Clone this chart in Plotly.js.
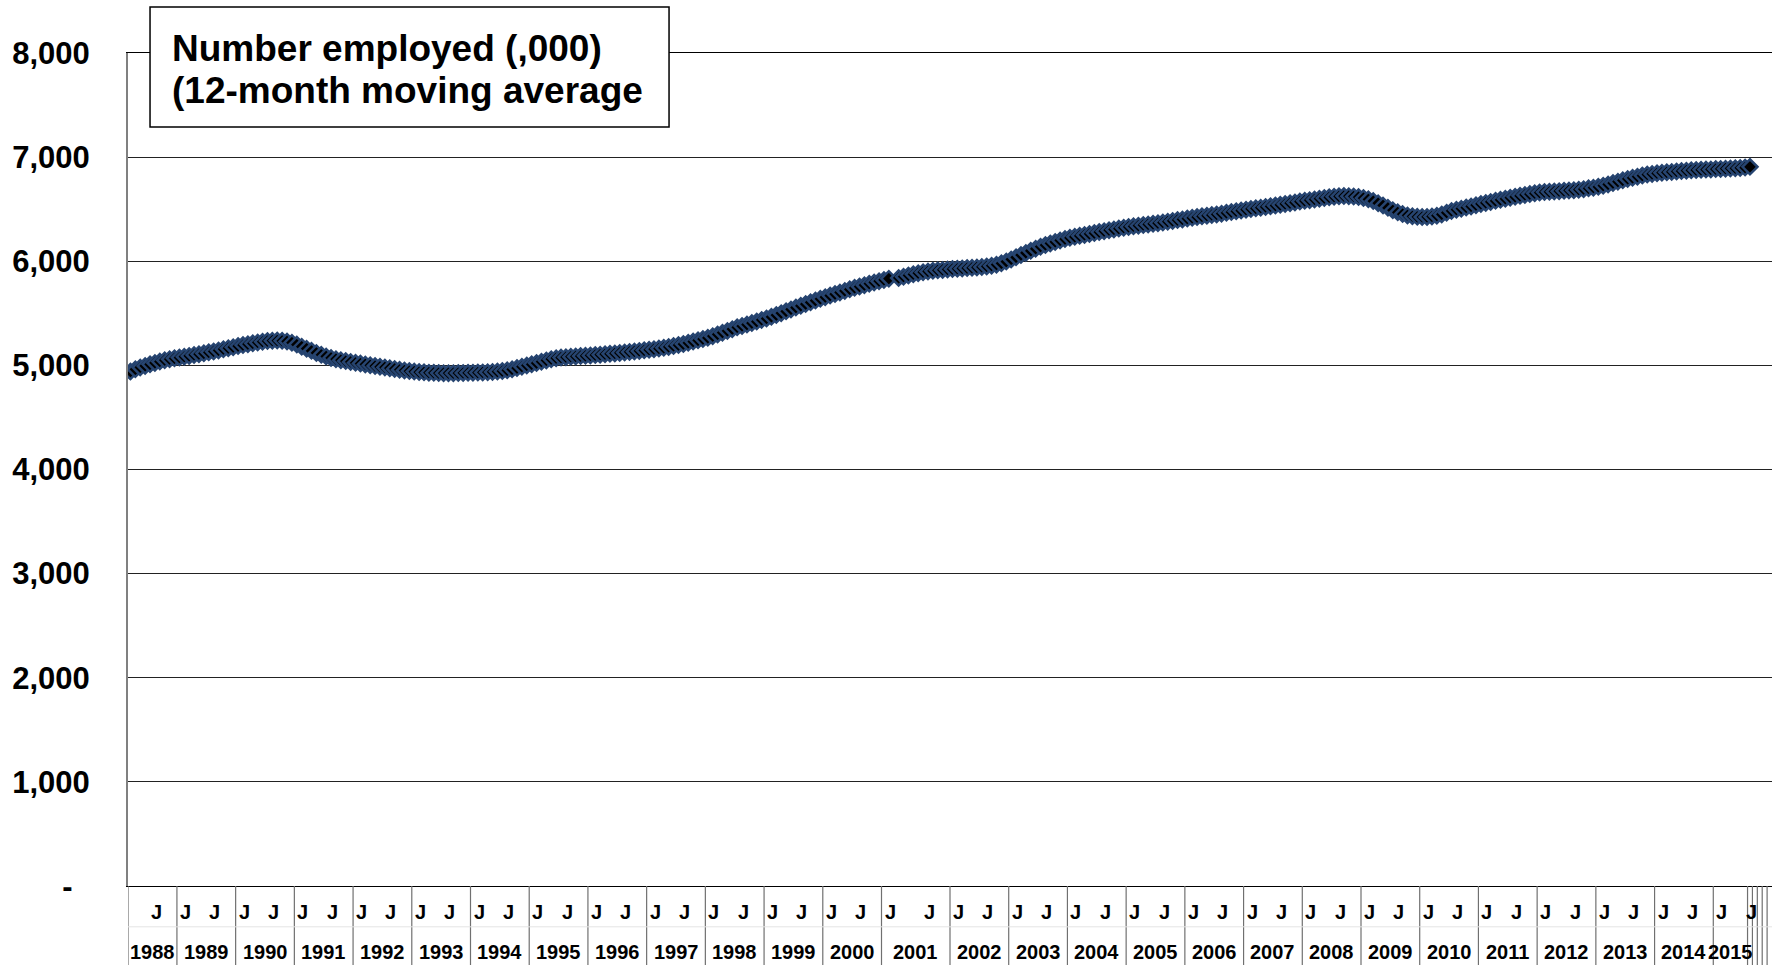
<!DOCTYPE html>
<html>
<head>
<meta charset="utf-8">
<script src="https://cdn.plot.ly/plotly-3.0.1.min.js"></script>
<style>
  html, body { margin: 0; padding: 0; background: #fff; }
  #chart { width: 1772px; height: 965px; }
</style>
</head>
<body>
<div id="chart"></div>
<script>
// Year groups on the category axis
const yearLabels = ['1988', '1989', '1990', '1991', '1992', '1993', '1994', '1995', '1996', '1997',
    '1998', '1999', '2000', '2001', '2002', '2003', '2004', '2005', '2006', '2007',
    '2008', '2009', '2010', '2011', '2012', '2013', '2014', '2015'];

// Month labels inside each year (only January and July are labelled)
const fullYearMonths = ['J', '', '', '', '', '', 'J', '', '', '', '', ''];
const months1988 = ['', '', '', '', 'J', '', '', '', '', ''];                 // Mar - Dec
const months2001 = ['J', '', '', '', '', '', '', '', 'J', '', '', '', '', '']; // series break inside
const months2015 = ['J', '', '', '', '', '', 'J'];                             // Jan - Jul
const trailingCats = 5; // blank categories after 2015, each its own group

// Number employed (,000), 12-month moving average, one value per category
const employed = [
    4940, 4962, 4980, 4995, 5010, 5024, 5037, 5050, 5060, 5068,                   // 1988
    5075, 5083, 5091, 5100, 5108, 5116, 5125, 5134, 5144, 5155, 5165, 5175,       // 1989
    5185, 5195, 5204, 5212, 5220, 5227, 5233, 5237, 5238, 5236, 5230, 5218,       // 1990
    5200, 5180, 5160, 5140, 5120, 5102, 5086, 5072, 5060, 5050, 5041, 5033,       // 1991
    5025, 5017, 5009, 5001, 4993, 4986, 4980, 4973, 4966, 4958, 4951, 4945,       // 1992
    4940, 4936, 4933, 4930, 4928, 4926, 4925, 4925, 4925, 4926, 4927, 4928,       // 1993
    4930, 4931, 4932, 4934, 4937, 4940, 4945, 4952, 4962, 4974, 4987, 4999,       // 1994
    5010, 5022, 5035, 5048, 5060, 5069, 5075, 5079, 5083, 5086, 5089, 5092,       // 1995
    5095, 5099, 5103, 5107, 5111, 5115, 5120, 5124, 5129, 5134, 5139, 5145,       // 1996
    5150, 5156, 5162, 5169, 5177, 5186, 5195, 5205, 5217, 5229, 5241, 5253,       // 1997
    5265, 5280, 5297, 5314, 5331, 5348, 5365, 5378, 5392, 5406, 5421, 5436,       // 1998
    5450, 5466, 5483, 5501, 5519, 5537, 5555, 5572, 5589, 5606, 5622, 5639,       // 1999
    5655, 5670, 5685, 5700, 5715, 5730, 5745, 5757, 5770, 5784, 5797, 5809,       // 2000
    5820, 5833, null, 5840, 5852, 5864, 5875, 5885, 5895, 5902, 5908, 5913, 5917, 5921, // 2001
    5925, 5928, 5931, 5934, 5937, 5941, 5945, 5950, 5957, 5967, 5980, 5997,       // 2002
    6017, 6038, 6059, 6080, 6100, 6120, 6140, 6156, 6171, 6186, 6200, 6213,       // 2003
    6225, 6235, 6244, 6253, 6262, 6271, 6280, 6289, 6298, 6306, 6314, 6322,       // 2004
    6330, 6336, 6342, 6348, 6354, 6359, 6365, 6372, 6380, 6387, 6395, 6402,       // 2005
    6410, 6417, 6424, 6431, 6437, 6444, 6450, 6457, 6465, 6472, 6480, 6487,       // 2006
    6495, 6502, 6508, 6515, 6522, 6528, 6535, 6542, 6550, 6558, 6565, 6573,       // 2007
    6580, 6587, 6594, 6601, 6607, 6614, 6620, 6624, 6626, 6625, 6622, 6616,       // 2008
    6607, 6595, 6578, 6558, 6536, 6513, 6490, 6470, 6453, 6440, 6432, 6427,       // 2009
    6425, 6426, 6430, 6438, 6450, 6466, 6483, 6495, 6505, 6516, 6527, 6538,       // 2010
    6550, 6560, 6570, 6580, 6590, 6600, 6610, 6619, 6628, 6637, 6645, 6653,       // 2011
    6660, 6664, 6667, 6670, 6673, 6676, 6680, 6683, 6687, 6692, 6700, 6707,       // 2012
    6715, 6726, 6738, 6751, 6764, 6777, 6790, 6801, 6812, 6823, 6833, 6839,       // 2013
    6845, 6850, 6854, 6858, 6862, 6866, 6870, 6873, 6876, 6878, 6880, 6882,       // 2014
    6885, 6887, 6889, 6891, 6893, 6896, 6900,                                     // 2015
    6907
];

const yTickVals = [0, 1000, 2000, 3000, 4000, 5000, 6000, 7000, 8000];
const yTickText = ['-\u00a0\u00a0', '1,000', '2,000', '3,000', '4,000', '5,000', '6,000', '7,000', '8,000'];

const titleLines = ['Number employed (,000)', '(12-month moving average'];

// build the grouped category axis
const special = { '1988': months1988, '2001': months2001, '2015': months2015 };
const groups = yearLabels.map(y => ({ label: y, months: special[y] || fullYearMonths }));
for (let k = 0; k < trailingCats; k++) groups.push({ label: '', months: [''] });

const font = 'Liberation Sans, Arial, sans-serif';
const annotations = [];
const shapes = [];
let idx = 0;
groups.forEach(g => {
    const first = idx;
    // divider at the start of each group
    shapes.push({
        type: 'line', xref: 'x', yref: 'paper',
        x0: first - 0.5, x1: first - 0.5, y0: 0, y1: -0.1,
        line: { color: '#707070', width: 1.2 }
    });
    g.months.forEach(m => {
        if (m) {
            annotations.push({
                xref: 'x', yref: 'paper', x: idx - 0.5, y: -0.031,
                xanchor: 'left', yanchor: 'middle', xshift: 1,
                text: m, showarrow: false,
                font: { family: font, size: 20, weight: 'bold', color: '#000' }
            });
        }
        idx++;
    });
    if (g.label) {
        annotations.push({
            xref: 'x', yref: 'paper', x: (first + idx - 1) / 2, y: -0.079,
            xanchor: 'center', yanchor: 'middle',
            text: g.label, showarrow: false,
            font: { family: font, size: 20, weight: 'bold', color: '#000' }
        });
    }
});
const nCats = idx;

// faint rule between the two label rows
shapes.push({
    type: 'line', xref: 'paper', yref: 'paper', x0: 0, x1: 1, y0: -0.049, y1: -0.049,
    line: { color: '#e4e4e4', width: 1 }
});

// title box
shapes.push({
    type: 'rect', xref: 'paper', yref: 'paper',
    x0: 0.0134, x1: 0.3291, y0: 0.9112, y1: 1.0552,
    line: { color: '#000', width: 1.5 }, fillcolor: '#fff', layer: 'above'
});
titleLines.forEach((t, i) => {
    annotations.push({
        xref: 'paper', yref: 'paper', x: 0.0256, y: i === 0 ? 1.0053 : 0.9551,
        xanchor: 'left', yanchor: 'middle', text: t, showarrow: false,
        font: { family: font, size: 37, weight: 'bold', color: '#000' }
    });
});

const trace = {
    x: employed.map((v, i) => i),
    y: employed,
    type: 'scatter',
    mode: 'markers',
    marker: {
        symbol: 'diamond',
        size: 11.5,
        color: '#000',
        line: { color: '#264470', width: 2.5 }
    },
    hoverinfo: 'skip'
};

const layout = {
    width: 1772,
    height: 965,
    margin: { l: 128, r: 0, t: 53, b: 79 },
    paper_bgcolor: '#fff',
    plot_bgcolor: '#fff',
    showlegend: false,
    xaxis: {
        range: [-0.5, nCats - 0.5],
        showgrid: false,
        zeroline: false,
        showticklabels: false,
        ticks: '',
        showline: true,
        mirror: true,
        linecolor: '#000',
        linewidth: 1
    },
    yaxis: {
        range: [0, 8000],
        tickvals: yTickVals,
        ticktext: yTickText,
        ticks: '',
        showgrid: true,
        gridcolor: '#222',
        gridwidth: 1,
        zeroline: false,
        showline: true,
        linecolor: '#808080',
        linewidth: 2,
        ticklabelstandoff: 30,
        tickfont: { family: font, size: 31, weight: 'bold', color: '#000' }
    },
    shapes: shapes,
    annotations: annotations
};

Plotly.newPlot('chart', [trace], layout, { staticPlot: true });
</script>
</body>
</html>
